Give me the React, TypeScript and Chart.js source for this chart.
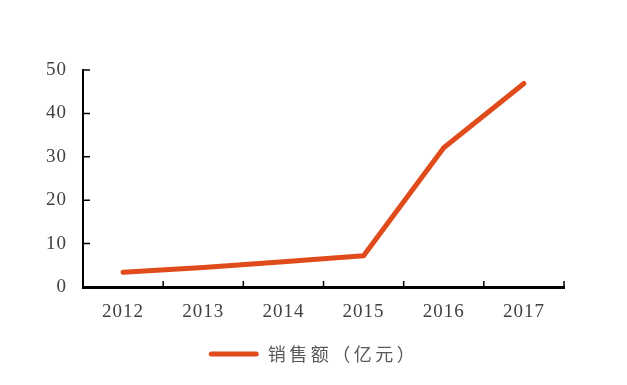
import React, { useEffect, useRef } from 'react';
import { Chart, registerables } from 'chart.js';

Chart.register(...registerables);

// Annual sales, in 100 million yuan
const years = ['2012', '2013', '2014', '2015', '2016', '2017'];
const sales = [3.4, 4.5, 5.8, 7.2, 32.1, 46.9];
const seriesLabel = '销售额（亿元）';
const yMin = 0;
const yMax = 50;
const yStep = 10;

const LINE_COLOR = '#E04B1B';
const TICK_COLOR = '#404046';
const LEGEND_COLOR = '#595959';

// Short tick marks that point into the plot area
const innerTicks = {
  id: 'innerTicks',
  afterDraw(chart: any) {
    const { ctx, chartArea, scales } = chart;
    const x = scales.x;
    const y = scales.y;
    ctx.save();
    ctx.strokeStyle = '#000';
    ctx.lineWidth = 1.5;
    ctx.beginPath();
    y.ticks.forEach((_t: any, i: number) => {
      if (i === 0) return;
      const py = y.getPixelForTick(i);
      ctx.moveTo(chartArea.left, py);
      ctx.lineTo(chartArea.left + 7, py);
    });
    const half = (x.getPixelForValue(1) - x.getPixelForValue(0)) / 2;
    for (let i = 0; i < years.length; i++) {
      const px = x.getPixelForValue(i) + half;
      ctx.moveTo(px, chartArea.bottom);
      ctx.lineTo(px, chartArea.bottom - 6);
    }
    ctx.stroke();
    ctx.restore();
  },
};

// Character spacing: wide for the legend text, slight for the axis labels
const textSpacing = {
  id: 'textSpacing',
  beforeLayout(chart: any) {
    const spaced = (obj: any, name: string, amount: string) => {
      if (!obj || !obj[name]) return;
      const key = '_spaced_' + name;
      if (obj[key]) return;
      obj[key] = true;
      const fn = obj[name];
      obj[name] = function (...args: any[]) {
        const c = chart.ctx;
        c.save();
        c.letterSpacing = amount;
        const r = fn.apply(obj, args);
        c.restore();
        return r;
      };
    };
    spaced(chart.legend, 'fit', '3.5px');
    spaced(chart.legend, 'draw', '3.5px');
    spaced(chart.scales.x, 'drawLabels', '1px');
    spaced(chart.scales.y, 'drawLabels', '1px');
  },
};

export default function App() {
  const canvasRef = useRef<HTMLCanvasElement | null>(null);

  useEffect(() => {
    const canvas = canvasRef.current;
    if (!canvas) return;
    const tickFont = { family: '"Liberation Serif", "Times New Roman", serif', size: 19 };
    const chart = new Chart(canvas, {
      type: 'line',
      data: {
        labels: years,
        datasets: [
          {
            label: seriesLabel,
            data: sales,
            borderColor: LINE_COLOR,
            backgroundColor: LINE_COLOR,
            borderWidth: 5,
            borderCapStyle: 'round',
            borderJoinStyle: 'round',
            pointRadius: 0,
            pointHoverRadius: 0,
            tension: 0,
            fill: false,
            yAxisID: 'y',
          },
        ],
      },
      options: {
        responsive: false,
        animation: false,
        layout: { padding: { top: 70, left: 0, right: 0, bottom: 12 } },
        plugins: {
          tooltip: { enabled: false },
          legend: {
            position: 'bottom',
            labels: {
              color: LEGEND_COLOR,
              font: { family: '"Noto Sans CJK SC", sans-serif', size: 18 },
              boxWidth: 50,
              boxHeight: 5,
              padding: 10,
              useBorderRadius: true,
              borderRadius: 2.5,
              generateLabels: (ch: any) =>
                Chart.defaults.plugins.legend.labels
                  .generateLabels(ch)
                  .map((it: any) => ({ ...it, lineWidth: 0, fillStyle: LINE_COLOR })),
            },
          },
        },
        scales: {
          x: {
            type: 'category',
            offset: true,
            grid: { display: false, drawTicks: false },
            border: { display: true, color: '#000', width: 3 },
            ticks: { color: TICK_COLOR, font: tickFont, padding: 14, maxRotation: 0 },
            afterFit: (s: any) => {
              s.height = 48;
            },
          },
          y: {
            type: 'linear',
            position: 'left',
            min: yMin,
            max: yMax,
            grid: { display: false, drawTicks: false },
            border: { display: true, color: '#000', width: 2 },
            ticks: { stepSize: yStep, color: TICK_COLOR, font: tickFont, padding: 16 },
            afterFit: (s: any) => {
              s.width = 83;
            },
          },
          yRight: {
            type: 'linear',
            position: 'right',
            display: true,
            grid: { display: false, drawTicks: false },
            border: { display: false },
            ticks: { display: false },
            afterFit: (s: any) => {
              s.width = 63;
            },
          },
        },
      },
      plugins: [innerTicks, textSpacing],
    } as any);
    return () => chart.destroy();
  }, []);

  return (
    <div style={{ position: 'absolute', left: 0, top: 0, width: 627, height: 385, background: '#fff' }}>
      <canvas ref={canvasRef} width={627} height={385} />
    </div>
  );
}
